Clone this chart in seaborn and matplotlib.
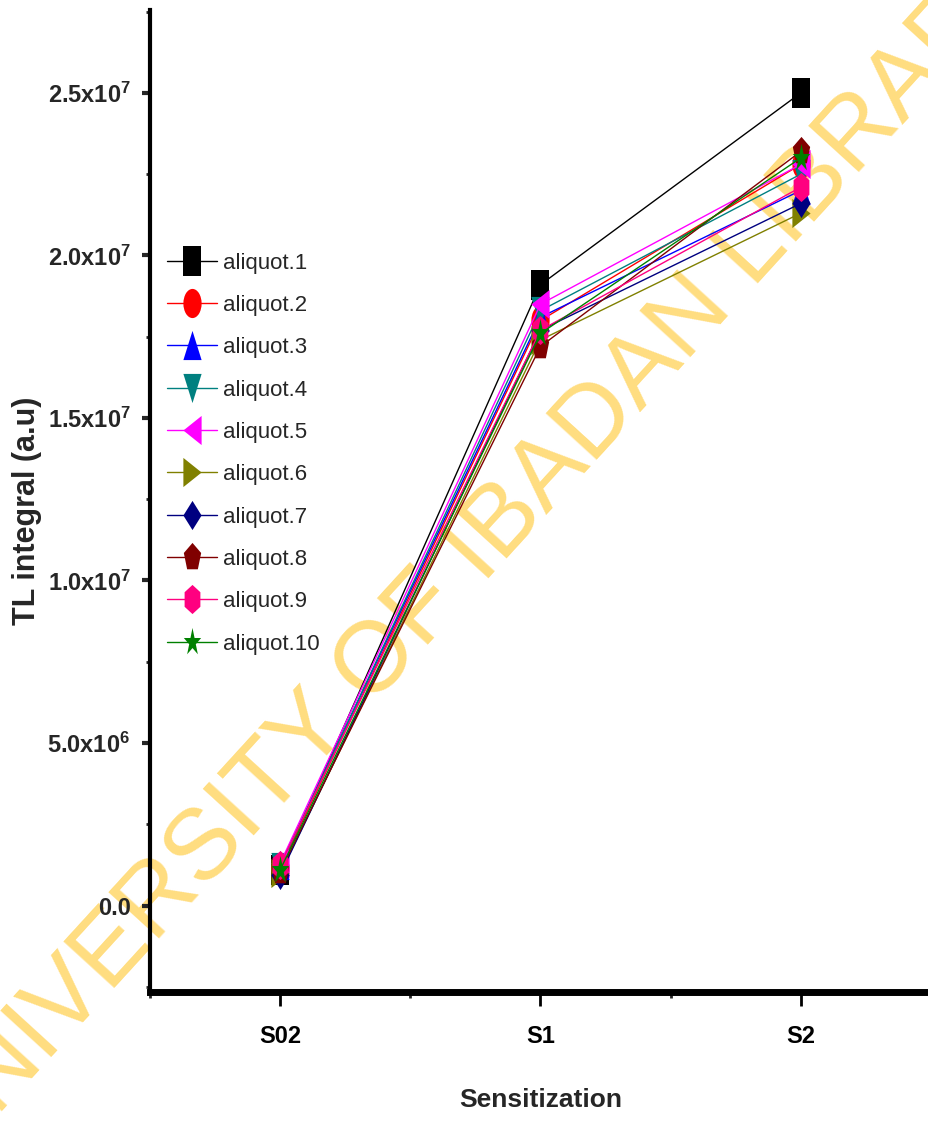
import matplotlib
matplotlib.use("Agg")
import matplotlib.pyplot as plt
import matplotlib.font_manager as fm
from matplotlib.markers import MarkerStyle
from matplotlib.transforms import Affine2D
from matplotlib.ticker import FixedLocator, MultipleLocator
import seaborn as sns
import pandas as pd
import numpy as np

# ---- data ----
stages = ["S02", "S1", "S2"]
series_names = ["aliquot.1", "aliquot.2", "aliquot.3", "aliquot.4", "aliquot.5",
                "aliquot.6", "aliquot.7", "aliquot.8", "aliquot.9", "aliquot.10"]
aliquot_1 = [1.10e6, 1.91e7, 2.50e7]
aliquot_2 = [1.15e6, 1.80e7, 2.28e7]
aliquot_3 = [1.25e6, 1.81e7, 2.20e7]
aliquot_4 = [1.20e6, 1.83e7, 2.25e7]
aliquot_5 = [1.30e6, 1.85e7, 2.28e7]
aliquot_6 = [1.00e6, 1.74e7, 2.13e7]
aliquot_7 = [0.95e6, 1.77e7, 2.16e7]
aliquot_8 = [1.05e6, 1.72e7, 2.32e7]
aliquot_9 = [1.25e6, 1.77e7, 2.21e7]
aliquot_10 = [1.10e6, 1.76e7, 2.30e7]
all_values = [aliquot_1, aliquot_2, aliquot_3, aliquot_4, aliquot_5,
              aliquot_6, aliquot_7, aliquot_8, aliquot_9, aliquot_10]
ytick_values = [0.0, 5.0e6, 1.0e7, 1.5e7, 2.0e7, 2.5e7]
ytick_labels = ["0.0", r"$\mathbf{5.0x10^{6}}$", r"$\mathbf{1.0x10^{7}}$",
                r"$\mathbf{1.5x10^{7}}$", r"$\mathbf{2.0x10^{7}}$", r"$\mathbf{2.5x10^{7}}$"]
watermark = "UNIVERSITY OF IBADAN LIBRARY"

colors = ["#000000", "#FF0000", "#0000FF", "#008080", "#FF00FF",
          "#808000", "#000080", "#800000", "#FF0080", "#008000"]
base_markers = ["s", "o", "^", "v", "<", ">", "D", "p", "h", "*"]

df = pd.DataFrame({
    "stage": np.repeat([stages], len(series_names), axis=0).ravel(),
    "value": np.concatenate(all_values),
    "series": np.repeat(series_names, len(stages)),
})
df["pos"] = df["stage"].map({s: i for i, s in enumerate(stages)})

# ---- fonts ----
sns.set_style("white")
avail = {f.name for f in fm.fontManager.ttflist}
narrow = "Liberation Sans Narrow" if "Liberation Sans Narrow" in avail else "Liberation Sans"
plt.rcParams["font.family"] = [narrow, "Liberation Sans", "DejaVu Sans"]
plt.rcParams["mathtext.fontset"] = "custom"
plt.rcParams["mathtext.rm"] = narrow
plt.rcParams["mathtext.bf"] = narrow + ":bold"


def stretched(m, sy=1.6):
    ms = MarkerStyle(m)
    path = ms.get_path().transformed(ms.get_transform())
    return path.transformed(Affine2D().scale(1.0, sy))


markers = [stretched(m) for m in base_markers]

fig = plt.figure(figsize=(9.29, 11.23), dpi=100)
ax = fig.add_axes([150 / 929, 1 - 992 / 1123, (931 - 150) / 929, (992 - 10) / 1123])
ax.patch.set_alpha(0)
ax.set_zorder(2)

# watermark
fig.text(0.511, 0.506, watermark, rotation=47.6, color="#FFDD80",
         fontsize=72, ha="center", va="center",
         family=["Liberation Sans", "DejaVu Sans"], zorder=0)

sns.lineplot(data=df, x="pos", y="value", hue="series", style="series",
             hue_order=series_names, style_order=series_names,
             palette=colors, markers=markers, dashes=False, markersize=21,
             markeredgewidth=0, linewidth=1.0, ax=ax, legend=True)

ax.set_xlim(-0.5, 2.5)
ax.set_ylim(-2.66e6, 2.755e7)
ax.xaxis.set_major_locator(FixedLocator([0, 1, 2]))
ax.set_xticklabels(stages, fontsize=17, fontweight="bold")
ax.xaxis.set_minor_locator(FixedLocator([-0.5, 0.5, 1.5, 2.5]))
ax.yaxis.set_major_locator(FixedLocator(ytick_values))
ax.set_yticklabels(ytick_labels, fontsize=17, fontweight="bold")
ax.yaxis.set_minor_locator(MultipleLocator(2.5e6))

for sp in ["top", "right"]:
    ax.spines[sp].set_visible(False)
ax.spines["left"].set_linewidth(3)
ax.spines["bottom"].set_linewidth(5)
ax.spines["left"].set_color("black")
ax.spines["bottom"].set_color("black")

ax.tick_params(axis="x", which="major", direction="out", length=10, width=2, pad=14,
               bottom=True, colors="black")
ax.tick_params(axis="x", which="minor", direction="out", length=4, width=2, bottom=True)
ax.tick_params(axis="y", which="major", direction="out", length=6, width=3, pad=8,
               left=True)
ax.tick_params(axis="y", which="minor", direction="out", length=3, width=2, left=True)

ax.set_xlabel("Sensitization", fontsize=19, fontweight="bold")
ax.set_ylabel("TL integral (a.u)", fontsize=22, fontweight="bold",
              family=["Liberation Sans", "DejaVu Sans"])
ax.yaxis.set_label_coords(-0.138, 0.49)
ax.xaxis.set_label_coords(0.5, -0.098)

leg = ax.legend(loc="upper left", bbox_to_anchor=(0.01, 0.762), frameon=False,
                fontsize=16, handlelength=2.25, labelspacing=0.96, handletextpad=0.3,
                borderaxespad=0)
for h in leg.legend_handles:
    h.set_markersize(21)

fig.savefig("out.png", dpi=100)
